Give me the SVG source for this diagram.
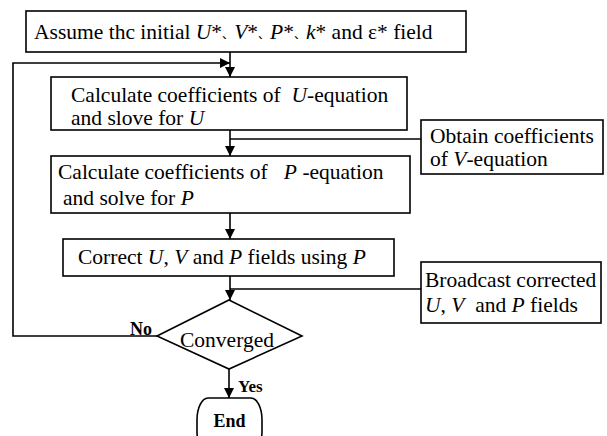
<svg xmlns="http://www.w3.org/2000/svg" width="607" height="436" viewBox="0 0 607 436">
<defs>
<marker id="arr" viewBox="0 0 10 10" refX="10" refY="5" markerWidth="10" markerHeight="10" markerUnits="userSpaceOnUse" orient="auto">
<path d="M0,0 L10,5 L0,10 Z" fill="#000"/>
</marker>
</defs>
<style>
.box{fill:#fff;stroke:#000;stroke-width:1.6}
.ln{fill:none;stroke:#000;stroke-width:1.6}
.t{font-family:'Liberation Serif','Times New Roman','Noto Sans CJK SC',serif;font-size:21.5px;fill:#000}
.b{font-weight:bold;font-size:18px}
.i{font-style:italic}
.c{font-size:12px}
</style>
<rect width="607" height="436" fill="#fff"/>
<g id="connectors">
<line class="ln" x1="230" y1="52" x2="230" y2="77" marker-end="url(#arr)"/>
<polyline class="ln" points="157,336 13,336 13,63 230,63" marker-end="url(#arr)"/>
<line class="ln" x1="230" y1="130" x2="230" y2="156" marker-end="url(#arr)"/>
<line class="ln" x1="230" y1="139" x2="421" y2="139"/>
<line class="ln" x1="230" y1="213" x2="230" y2="239" marker-end="url(#arr)"/>
<line class="ln" x1="230" y1="276" x2="230" y2="300" marker-end="url(#arr)"/>
<line class="ln" x1="230" y1="289" x2="421" y2="289"/>
<line class="ln" x1="229" y1="369" x2="229" y2="398" marker-end="url(#arr)"/>
<text class="t b" x="130" y="335">No</text>
<text class="t b" x="238" y="392" style="font-size:17px">Yes</text>
</g>
<g id="init">
<rect class="box" x="26" y="11" width="440" height="41"/>
<text class="t" x="34" y="39">Assume thc initial <tspan class="i">U</tspan>*<tspan class="c">、</tspan><tspan class="i">V</tspan>*<tspan class="c">、</tspan><tspan class="i">P</tspan>*<tspan class="c">、</tspan><tspan class="i">k</tspan>* and ε* field</text>
</g>
<g id="ueq">
<rect class="box" x="51" y="77" width="356" height="53"/>
<text class="t" x="71" y="102" xml:space="preserve">Calculate coefficients of  <tspan class="i">U</tspan>-equation</text>
<text class="t" x="71" y="125">and slove for <tspan class="i">U</tspan></text>
</g>
<g id="veq">
<rect class="box" x="421" y="120" width="182" height="54"/>
<text class="t" x="430" y="143">Obtain coefficients</text>
<text class="t" x="430" y="166">of <tspan class="i">V</tspan>-equation</text>
</g>
<g id="peq">
<rect class="box" x="51" y="156" width="359" height="57"/>
<text class="t" x="58" y="179" xml:space="preserve">Calculate coefficients of   <tspan class="i">P</tspan> -equation</text>
<text class="t" x="63" y="205">and solve for <tspan class="i">P</tspan></text>
</g>
<g id="correct">
<rect class="box" x="63" y="239" width="331" height="37"/>
<text class="t" x="78" y="264">Correct <tspan class="i">U</tspan>, <tspan class="i">V</tspan> and <tspan class="i">P</tspan> fields using <tspan class="i">P</tspan></text>
</g>
<g id="broadcast">
<rect class="box" x="421" y="262" width="180" height="61"/>
<text class="t" x="425" y="287">Broadcast corrected</text>
<text class="t" x="425" y="312" xml:space="preserve"><tspan class="i">U</tspan>, <tspan class="i">V</tspan>  and <tspan class="i">P</tspan> fields</text>
</g>
<g id="converged">
<polygon class="box" points="229,300 302,336 229,369 157,336"/>
<text class="t" x="227" y="347" text-anchor="middle">Converged</text>
</g>
<g id="end">
<rect class="box" x="197" y="398" width="65" height="55" rx="11" ry="22"/>
<text class="t b" x="229.5" y="427" text-anchor="middle">End</text>
</g>
</svg>
